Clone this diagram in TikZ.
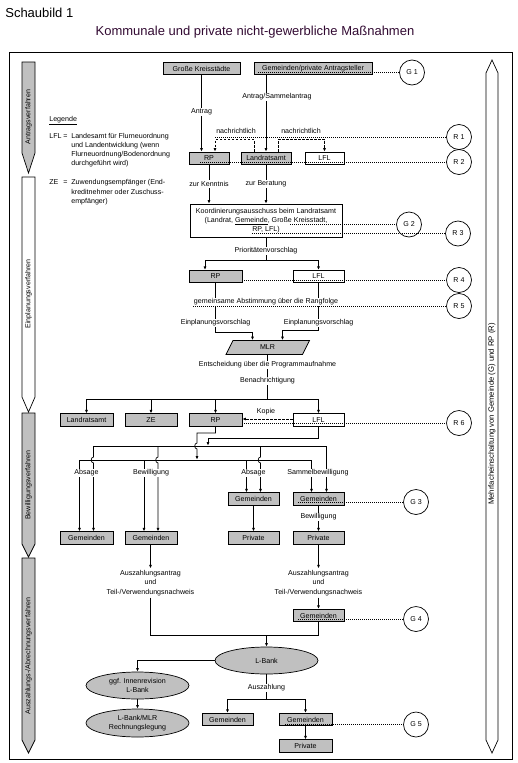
\documentclass[tikz,border=0pt]{standalone}
\usepackage{fontspec}
\setmainfont{Liberation Sans}
\usetikzlibrary{arrows.meta,shapes.geometric}
\definecolor{boxgray}{RGB}{192,192,192}
\definecolor{titlecol}{RGB}{50,10,50}
\begin{document}
\begin{tikzpicture}[x=1pt,y=-1pt,line width=0.7pt,
 every node/.style={font=\fontsize{7.1}{8.5}\selectfont,inner sep=0pt},
 gbox/.style={draw,fill=boxgray,minimum height=12.5pt},
 wbox/.style={draw,fill=white,minimum height=12.5pt},
 circ/.style={draw,circle,minimum size=25pt},
 lbl/.style={fill=white,inner sep=1pt},
 arr/.style={-{Latex[length=3.5pt,width=3pt]}},
 dotl/.style={line width=0.6pt,dash pattern=on 0.7pt off 1.3pt},
 dashl/.style={dash pattern=on 2.5pt off 1.5pt},
 ell/.style={draw,ellipse,fill=boxgray,minimum width=103pt,align=center},
 legt/.style={anchor=base west},
 azt/.style={align=center,inner sep=1.5pt,font=\fontsize{7.1}{9.5}\selectfont},
]
\useasboundingbox (0,0) rectangle (517,763);
% titles
\node[anchor=west,font=\fontsize{13}{15}\selectfont] (sb) at (5,13) {Schaubild 1};
\node[font=\fontsize{13}{15}\selectfont,text=titlecol] (title) at (255,32) {Kommunale und private nicht-gewerbliche Maßnahmen};
% frame
\draw (9,52) rectangle (512,759);
% phase arrows
\path[draw,fill=boxgray] (22,62) -- (35,62) -- (35,153) -- (28.5,173) -- (22,153) -- cycle;
\node[rotate=90] (ph1) at (28.5,117) {Antragsverfahren};
\path[draw,fill=white] (22,177) -- (35,177) -- (35,397) -- (28.5,412) -- (22,397) -- cycle;
\node[rotate=90] (ph2) at (28.5,294) {Einplanungsverfahren};
\path[draw,fill=boxgray] (22,413) -- (35,413) -- (35,544) -- (28.5,557) -- (22,544) -- cycle;
\node[rotate=90] (ph3) at (28.5,485) {Bewilligungsverfahren};
\path[draw,fill=boxgray] (22,558) -- (35,558) -- (35,740) -- (28.5,753) -- (22,740) -- cycle;
\node[rotate=90] (ph4) at (28.5,656) {Auszahlungs-/Abrechnungsverfahren};
\path[draw,fill=white] (492,60) -- (498,73) -- (498,740) -- (492,753) -- (486,740) -- (486,73) -- cycle;
\node[rotate=90,font=\fontsize{7.7}{9}\selectfont] (mehr) at (492,414) {Mehrfacheinschaltung von Gemeinde (G) und RP (R)};
% legend
\node[legt] (leg) at (49,121.5) {\underline{Legende}};
\node[legt] (lfl) at (49,138.5) {LFL};
\node[legt] (eq1) at (63,138.5) {=};
\node[legt] (lt1) at (71,138.5) {Landesamt für Flurneuordnung};
\node[legt] (lt2) at (71,147.5) {und Landentwicklung (wenn};
\node[legt] (lt3) at (71,156.5) {Flurneuordnung/Bodenordnung};
\node[legt] (lt4) at (71,165.5) {durchgeführt wird)};
\node[legt] (ze) at (49,184.5) {ZE};
\node[legt] (eq2) at (63,184.5) {=};
\node[legt] (zt1) at (71,184.5) {Zuwendungsempfänger (End-};
\node[legt] (zt2) at (71,194) {kreditnehmer oder Zuschuss-};
\node[legt] (zt3) at (71,203.5) {empfänger)};
% boxes
\node[gbox,minimum width=77pt] (GKS) at (201.5,68.5) {Große Kreisstädte};
\node[gbox,minimum width=118pt] (GPA) at (313,68.5) {Gemeinden/private Antragsteller};
\node[circ] (G1) at (412,72.5) {G 1};
\node[gbox,minimum width=40pt,minimum height=12pt] (RP2) at (209,158) {RP};
\node[gbox,minimum width=50pt,minimum height=12pt] (LRA2) at (266,158) {Landratsamt};
\node[wbox,minimum width=39pt,minimum height=12pt] (LFL2) at (324.5,158) {LFL};
\node[circ] (R1) at (459,137) {R 1};
\node[circ] (R2) at (459,162) {R 2};
\node[draw,fill=white,minimum width=152pt,minimum height=33pt,align=center,font=\fontsize{7.1}{9}\selectfont] (KOORD) at (266,220.5) {Koordinierungsausschuss beim Landratsamt\\(Landrat, \underline{Gemeinde}, Große Kreisstadt,\\RP, LFL)};
\node[circ] (G2) at (409,224.5) {G 2};
\node[circ] (R3) at (458,233.5) {R 3};
\node[gbox,minimum width=53pt] (RP3) at (215.5,276.5) {RP};
\node[wbox,minimum width=51pt] (LFL3) at (318.5,276.5) {LFL};
\node[circ] (R4) at (459,280) {R 4};
\node[circ] (R5) at (459,306) {R 5};
\path[draw,fill=boxgray] (226,354.5) -- (233,340.5) -- (309.5,340.5) -- (302.5,354.5) -- cycle;
\node[minimum width=76pt,minimum height=14pt] (MLR) at (267.5,347.5) {MLR};
\node[gbox,minimum width=53pt] (LRA4) at (86.5,420) {Landratsamt};
\node[gbox,minimum width=52pt] (ZE4) at (151,420) {ZE};
\node[gbox,minimum width=53pt] (RP4) at (215.5,420) {RP};
\node[wbox,minimum width=51pt] (LFL4) at (318.5,420) {LFL};
\node[circ] (R6) at (459,423) {R 6};
\node[gbox,minimum width=53pt] (GEMa) at (86.5,538) {Gemeinden};
\node[gbox,minimum width=52pt] (GEMb) at (151,538) {Gemeinden};
\node[gbox,minimum width=51pt] (GEMc) at (253.5,499) {Gemeinden};
\node[gbox,minimum width=51pt] (PRIc) at (253.5,538) {Private};
\node[gbox,minimum width=51pt] (GEMd) at (318.5,499) {Gemeinden};
\node[gbox,minimum width=51pt] (PRId) at (318.5,538) {Private};
\node[circ] (G3) at (416,502) {G 3};
\node[azt] (AZa) at (150.5,583) {Auszahlungsantrag\\und\\Teil-/Verwendungsnachweis};
\node[azt] (AZb) at (318.5,583) {Auszahlungsantrag\\und\\Teil-/Verwendungsnachweis};
\node[gbox,minimum width=51pt] (GEM6) at (318.5,615.5) {Gemeinden};
\node[circ] (G4) at (416,619) {G 4};
\node[ell,minimum height=27pt] (LBANK) at (266.5,660.5) {L-Bank};
\node[ell,minimum height=27pt,font=\fontsize{7.1}{9}\selectfont] (INNEN) at (137.5,685.5) {ggf. Innenrevision\\L-Bank};
\node[ell,minimum height=28pt,font=\fontsize{7.1}{9}\selectfont] (RECH) at (137.5,723) {L-Bank/MLR\\Rechnungslegung};
\node[gbox,minimum width=51pt] (GEM7a) at (227.5,719.5) {Gemeinden};
\node[gbox,minimum width=53pt] (GEM7b) at (305.5,719.5) {Gemeinden};
\node[gbox,minimum width=53pt] (PRI7) at (305.5,746) {Private};
\node[circ] (G5) at (416,724.5) {G 5};
% connectors
\draw[arr] (GKS.south) -- (GKS.south |- RP2.north);
\draw[arr] (GPA.south -| LRA2.north) -- (LRA2.north);
\draw[dashl,arr] ([xshift=-12pt]LRA2.north) -- ++(0,-12) -| ([xshift=6pt]RP2.north);
\draw[dashl,arr] ([xshift=12pt]LRA2.north) -- ++(0,-12) -| (LFL2.north);
\draw[arr] (RP2.south) -- (RP2.south |- KOORD.north);
\draw[arr] (LRA2.south) -- (LRA2.south |- KOORD.north);
\coordinate (b1) at (266,260);
\draw (KOORD.south) -- (b1);
\draw[arr] (b1) -| ([xshift=-10.5pt]RP3.north);
\draw[arr] (b1) -| (LFL3.north);
\coordinate (m1) at (215.5,332);
\coordinate (m2) at (318.5,330);
\draw[arr] (RP3.south) -- (m1) -| ([xshift=-15pt]MLR.north);
\draw[arr] (LFL3.south) -- (m2) -| ([xshift=15pt]MLR.north);
\coordinate (b2) at (267.5,399);
\draw (MLR.south) -- (b2);
\draw[arr] (b2) -| (LRA4.north);
\draw[arr] (b2) -| (ZE4.north);
\draw[arr] (b2) -| (RP4.north);
\draw[arr] (b2) -| (LFL4.north);
\draw[dashl,arr] ([yshift=1pt]LFL4.west) -- ([yshift=1pt]RP4.east);
% buses
\coordinate (h0) at (197,433);
\coordinate (h1) at (208,438);
\draw[arr] (RP4.south) |- (h0) -- (197,443) .. controls (194,443) and (194,449) .. (197,449) -- (197,459.6);
\draw[arr] (LFL4.south) |- (h1) -- (208,445.6);
\coordinate (bA1) at (93.5,446);
\coordinate (bA2) at (158,446);
\coordinate (bA3) at (260.5,446);
\coordinate (bA4) at (326.5,446);
\coordinate (bB1) at (79.5,460);
\coordinate (bB2) at (144,460);
\coordinate (bB3) at (246.5,460);
\coordinate (bB4) at (311.5,460);
\draw (bA1) -- (bA4);
\draw (bB1) -- (bB4);
\draw[arr] (bA1) -- (93.5,457) .. controls (90.5,457) and (90.5,463) .. (93.5,463) -- ([xshift=7pt]GEMa.north);
\draw[arr] (bA2) -- (158,457) .. controls (155,457) and (155,463) .. (158,463) -- ([xshift=7pt]GEMb.north);
\draw[arr] (bA3) -- (260.5,457) .. controls (257.5,457) and (257.5,463) .. (260.5,463) -- ([xshift=7pt]GEMc.north);
\draw[arr] (bA4) -- ([xshift=8pt]GEMd.north);
\draw[arr] (bB1) -- ([xshift=-7pt]GEMa.north);
\draw[arr] (bB2) -- ([xshift=-7pt]GEMb.north);
\draw[arr] (bB3) -- ([xshift=-7pt]GEMc.north);
\draw[arr] (bB4) -- ([xshift=-7pt]GEMd.north);
\draw[arr] (GEMc.south) -- (PRIc.north);
\draw[arr] (GEMd.south) -- (PRId.north);
\draw[arr] (GEMb.south -| AZa.north) -- (AZa.north);
\draw[arr] (PRId.south) -- (AZb.north);
\draw[arr] (AZb.south) -- (GEM6.north);
\coordinate (b3) at (266.5,635);
\draw (AZa.south) |- (b3);
\draw (GEM6.south) |- (b3);
\draw[arr] (b3) -- (LBANK.north);
\draw[arr] (LBANK.west) -| (INNEN.north);
\draw[arr] (INNEN.south) -- (RECH.north);
\coordinate (b4) at (266.5,699);
\draw (LBANK.south) -- (b4);
\draw[arr] (b4) -| (GEM7a.north);
\draw[arr] (b4) -| (GEM7b.north);
\draw[arr] (GEM7b.south) -- (PRI7.north);
% labels
\node[lbl] (tAntrag) at (201.5,112) {Antrag};
\node[lbl] (tSammel) at (277,97) {Antrag/Sammelantrag};
\node (tn1) at (236,131) {nachrichtlich};
\node (tn2) at (301,131) {nachrichtlich};
\node[lbl] (tKennt) at (209,184) {zur Kenntnis};
\node[lbl] (tBerat) at (266,184) {zur Beratung};
\node[lbl] (tPrio) at (266,251) {Prioritätenvorschlag};
\node[lbl] (tAbst) at (266,302) {gemeinsame Abstimmung über die Rangfolge};
\node[lbl] (tEin1) at (215.5,323) {Einplanungsvorschlag};
\node[lbl] (tEin2) at (318.5,323) {Einplanungsvorschlag};
\node[lbl] (tEnts) at (267.5,365) {Entscheidung über die Programmaufnahme};
\node[lbl] (tBena) at (267.5,381) {Benachrichtigung};
\node (tKopie) at (266,412) {Kopie};
\node[lbl] (tAbs1) at (86.5,473) {Absage};
\node[lbl] (tBew1) at (151,473) {Bewilligung};
\node[lbl] (tAbs2) at (253.5,473) {Absage};
\node[lbl] (tSamm) at (318,473) {Sammelbewilligung};
\node[lbl] (tBew2) at (318.5,517) {Bewilligung};
\node[lbl] (tAusz) at (266.5,688) {Auszahlung};
% dotted links to circles
\coordinate (d1) at (258,72.5);
\coordinate (d2) at (215,137);
\coordinate (d3) at (200,162);
\coordinate (d4) at (290,224.5);
\coordinate (d5) at (252,233.5);
\coordinate (d6) at (193,306);
\coordinate (d7) at (298,502);
\coordinate (d8) at (298,619);
\coordinate (d9) at (285,724.5);
\draw[dotl] (d1) -- (G1.west);
\draw[dotl] (d2) -- (R1.west);
\draw[dotl] (d3) -- (R2.west);
\draw[dotl] (d4) -- (G2.west);
\draw[dotl] (d5) -- (R3.west);
\draw[dotl] (RP3.east |- R4.west) -- (R4.west);
\draw[dotl] (d6) -- (R5.west);
\draw[dotl] (RP4.east |- R6.west) -- (R6.west);
\draw[dotl] (d7) -- (G3.west);
\draw[dotl] (d8) -- (G4.west);
\draw[dotl] (d9) -- (G5.west);
\end{tikzpicture}
\end{document}
